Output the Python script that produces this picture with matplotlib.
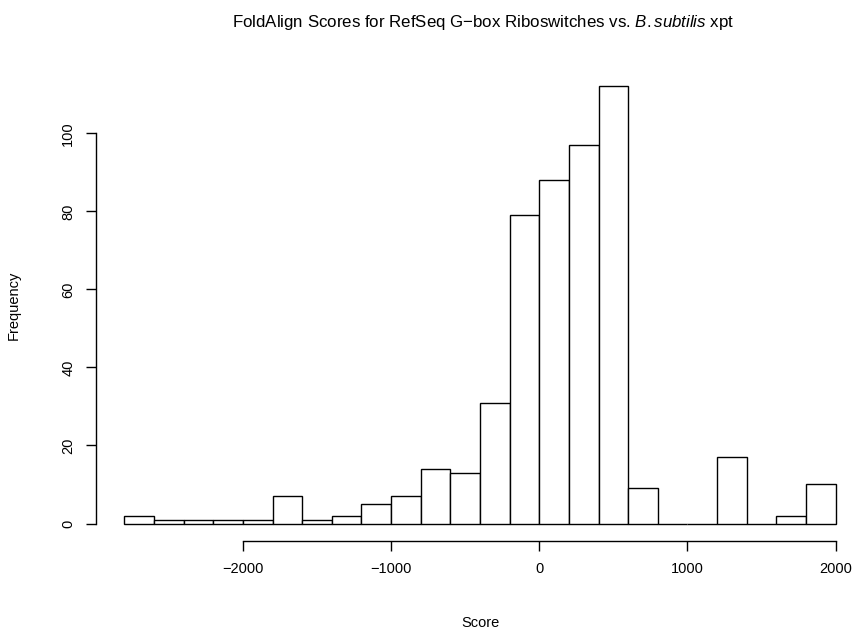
import numpy as np
import matplotlib.pyplot as plt

plt.rcParams['font.family'] = ['Liberation Sans', 'DejaVu Sans']
plt.rcParams['mathtext.fontset'] = 'custom'
plt.rcParams['mathtext.rm'] = 'Liberation Sans'
plt.rcParams['mathtext.it'] = 'Liberation Sans:italic'

# histogram bins (width 200) and counts
bin_edges = np.arange(-2800, 2001, 200)
counts = [2, 1, 1, 1, 1, 7, 1, 2, 5, 7, 14, 13, 31, 79, 88, 97, 112,
          9, 0, 0, 17, 0, 2, 10]
x_ticks = [-2000, -1000, 0, 1000, 2000]
y_ticks = [0, 20, 40, 60, 80, 100]

W, H = 858, 631
fig = plt.figure(figsize=(W / 100, H / 100), dpi=100)

# R style plot region: limits padded by 4%
xlo, xhi = bin_edges[0], bin_edges[-1]
ylo, yhi = 0, max(counts)
xpad = 0.04 * (xhi - xlo)
ypad = 0.04 * (yhi - ylo)
left_px, right_px = 96, 864
top_px, bot_px = 69, 541
ax = fig.add_axes([left_px / W, 1 - bot_px / H,
                   (right_px - left_px) / W, (bot_px - top_px) / H])

ax.bar(bin_edges[:-1], counts, width=np.diff(bin_edges), align='edge',
       color='white', edgecolor='black', linewidth=1.0)

ax.set_xlim(xlo - xpad, xhi + xpad)
ax.set_ylim(ylo - ypad, yhi + ypad)

for s in ['top', 'right']:
    ax.spines[s].set_visible(False)
ax.spines['left'].set_bounds(y_ticks[0], y_ticks[-1])
ax.spines['bottom'].set_bounds(x_ticks[0], x_ticks[-1])
ax.spines['left'].set_linewidth(1.0)
ax.spines['bottom'].set_linewidth(1.0)

ax.set_xticks(x_ticks)
ax.set_xticklabels([str(v).replace('-', '\u2212') for v in x_ticks])
ax.set_yticks(y_ticks)
ax.set_yticklabels([str(v) for v in y_ticks], rotation=90, va='center')
ax.tick_params(direction='out', length=7, width=1.0, labelsize=10.5, pad=8)

ax.set_xlabel('Score', fontsize=10.5, labelpad=29)
ax.set_ylabel('Frequency', fontsize=10.5, labelpad=29)

# title centred over the plot region, like R's main=
fig.text(483 / W, 1 - 22 / H,
         r'FoldAlign Scores for RefSeq G$-$box Riboswitches vs. $\mathit{B{.}subtilis}$ xpt',
         ha='center', va='center', fontsize=12.2)

fig.savefig('out.png', dpi=100)
